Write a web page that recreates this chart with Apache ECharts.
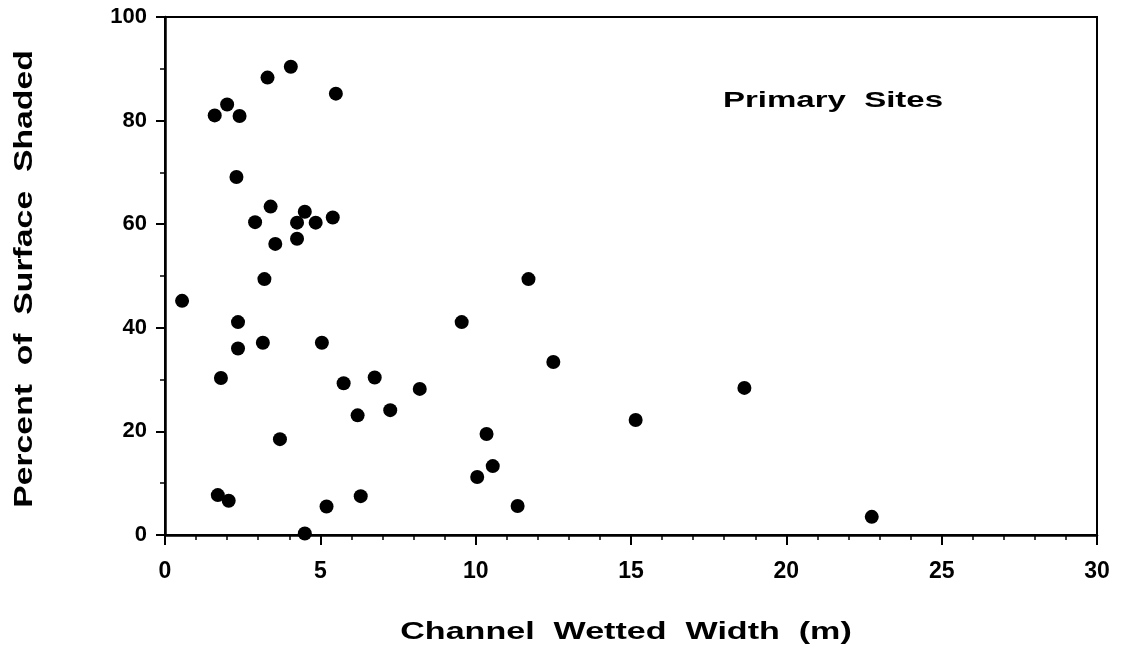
<!DOCTYPE html>
<html>
<head>
<meta charset="utf-8">
<script src="https://cdn.jsdelivr.net/npm/echarts@6/dist/echarts.min.js"></script>
<style>
  html, body { margin: 0; padding: 0; background: #ffffff; }
  #chart { width: 1124px; height: 653px; }
</style>
</head>
<body>
<div id="chart"></div>
<script>
// Channel wetted width (m) for each primary site
const widthM = [
  1.6, 2.0, 2.4, 3.3, 4.05, 5.5, 2.3, 3.4, 2.9, 4.5, 4.25, 4.85, 5.4, 3.55, 4.25,
  0.55, 1.7, 2.05, 1.8, 2.35, 2.35, 3.15, 3.2, 3.7, 4.5, 5.2, 5.05, 5.75, 6.3,
  6.2, 6.75, 7.25, 8.2, 9.55, 11.7, 12.5, 10.35, 10.55, 10.05, 11.35, 15.15, 18.65, 22.75
];
// Percent of surface shaded for each primary site
const shadedPct = [
  81.0, 83.1, 80.9, 88.3, 90.4, 85.2, 69.1, 63.4, 60.4, 62.4, 60.3, 60.3, 61.3, 56.2, 57.2,
  45.2, 7.7, 6.6, 30.3, 36.0, 41.1, 37.1, 49.4, 18.5, 0.3, 5.5, 37.1, 29.3, 7.5,
  23.1, 30.4, 24.1, 28.2, 41.1, 49.4, 33.4, 19.5, 13.3, 11.2, 5.6, 22.2, 28.4, 3.5
];
const xTicks = [0, 5, 10, 15, 20, 25, 30];
const yTicks = [0, 20, 40, 60, 80, 100];
const xTitle = 'Channel  Wetted  Width  (m)';
const yTitle = 'Percent  of  Surface  Shaded';
const panelLabel = 'Primary  Sites';

const points = widthM.map((w, i) => [w, shadedPct[i]]);
const FONT = '"Liberation Sans", Arial, Helvetica, sans-serif';

const chart = echarts.init(document.getElementById('chart'), null, { renderer: 'canvas' });
chart.setOption({
  backgroundColor: '#ffffff',
  animation: false,
  grid: {
    left: 165, right: 27, top: 17, bottom: 118,
    show: true, borderColor: '#000', borderWidth: 2, backgroundColor: 'transparent'
  },
  xAxis: {
    type: 'value',
    min: xTicks[0], max: xTicks[xTicks.length - 1], interval: 5,
    axisLine: { show: true, onZero: false, lineStyle: { color: '#000', width: 2.5 } },
    axisTick: { show: true, inside: false, length: 10, lineStyle: { color: '#000', width: 2 } },
    minorTick: { show: true, splitNumber: 5, length: 5, lineStyle: { color: '#000', width: 1.5 } },
    splitLine: { show: false },
    minorSplitLine: { show: false },
    axisLabel: {
      color: '#000', fontSize: 23, fontWeight: 'bold', fontFamily: FONT, margin: 25
    }
  },
  yAxis: {
    type: 'value',
    min: yTicks[0], max: yTicks[yTicks.length - 1], interval: 20,
    axisLine: { show: true, onZero: false, lineStyle: { color: '#000', width: 2.5 } },
    axisTick: { show: true, inside: false, length: 9, lineStyle: { color: '#000', width: 2 } },
    minorTick: { show: true, splitNumber: 2, length: 5, lineStyle: { color: '#000', width: 1.5 } },
    splitLine: { show: false },
    minorSplitLine: { show: false },
    axisLabel: {
      color: '#000', fontSize: 22, fontWeight: 'bold', fontFamily: FONT, margin: 18
    }
  },
  graphic: [
    {
      type: 'text', x: 833, y: 101, scaleX: 1.5, silent: true,
      style: {
        text: panelLabel, font: 'bold 22px ' + FONT, fill: '#000',
        align: 'center', verticalAlign: 'middle', textAlign: 'center', textVerticalAlign: 'middle'
      }
    },
    {
      type: 'text', x: 626, y: 632, scaleX: 1.42, silent: true,
      style: {
        text: xTitle, font: 'bold 24px ' + FONT, fill: '#000',
        align: 'center', verticalAlign: 'middle', textAlign: 'center', textVerticalAlign: 'middle'
      }
    },
    {
      type: 'text', x: 25, y: 279, rotation: Math.PI / 2, scaleX: 1.35, silent: true,
      style: {
        text: yTitle, font: 'bold 25px ' + FONT, fill: '#000',
        align: 'center', verticalAlign: 'middle', textAlign: 'center', textVerticalAlign: 'middle'
      }
    }
  ],
  series: [{
    type: 'scatter',
    data: points,
    symbol: 'circle',
    symbolSize: 14,
    itemStyle: { color: '#000', opacity: 1 },
    clip: false
  }]
});
</script>
</body>
</html>
